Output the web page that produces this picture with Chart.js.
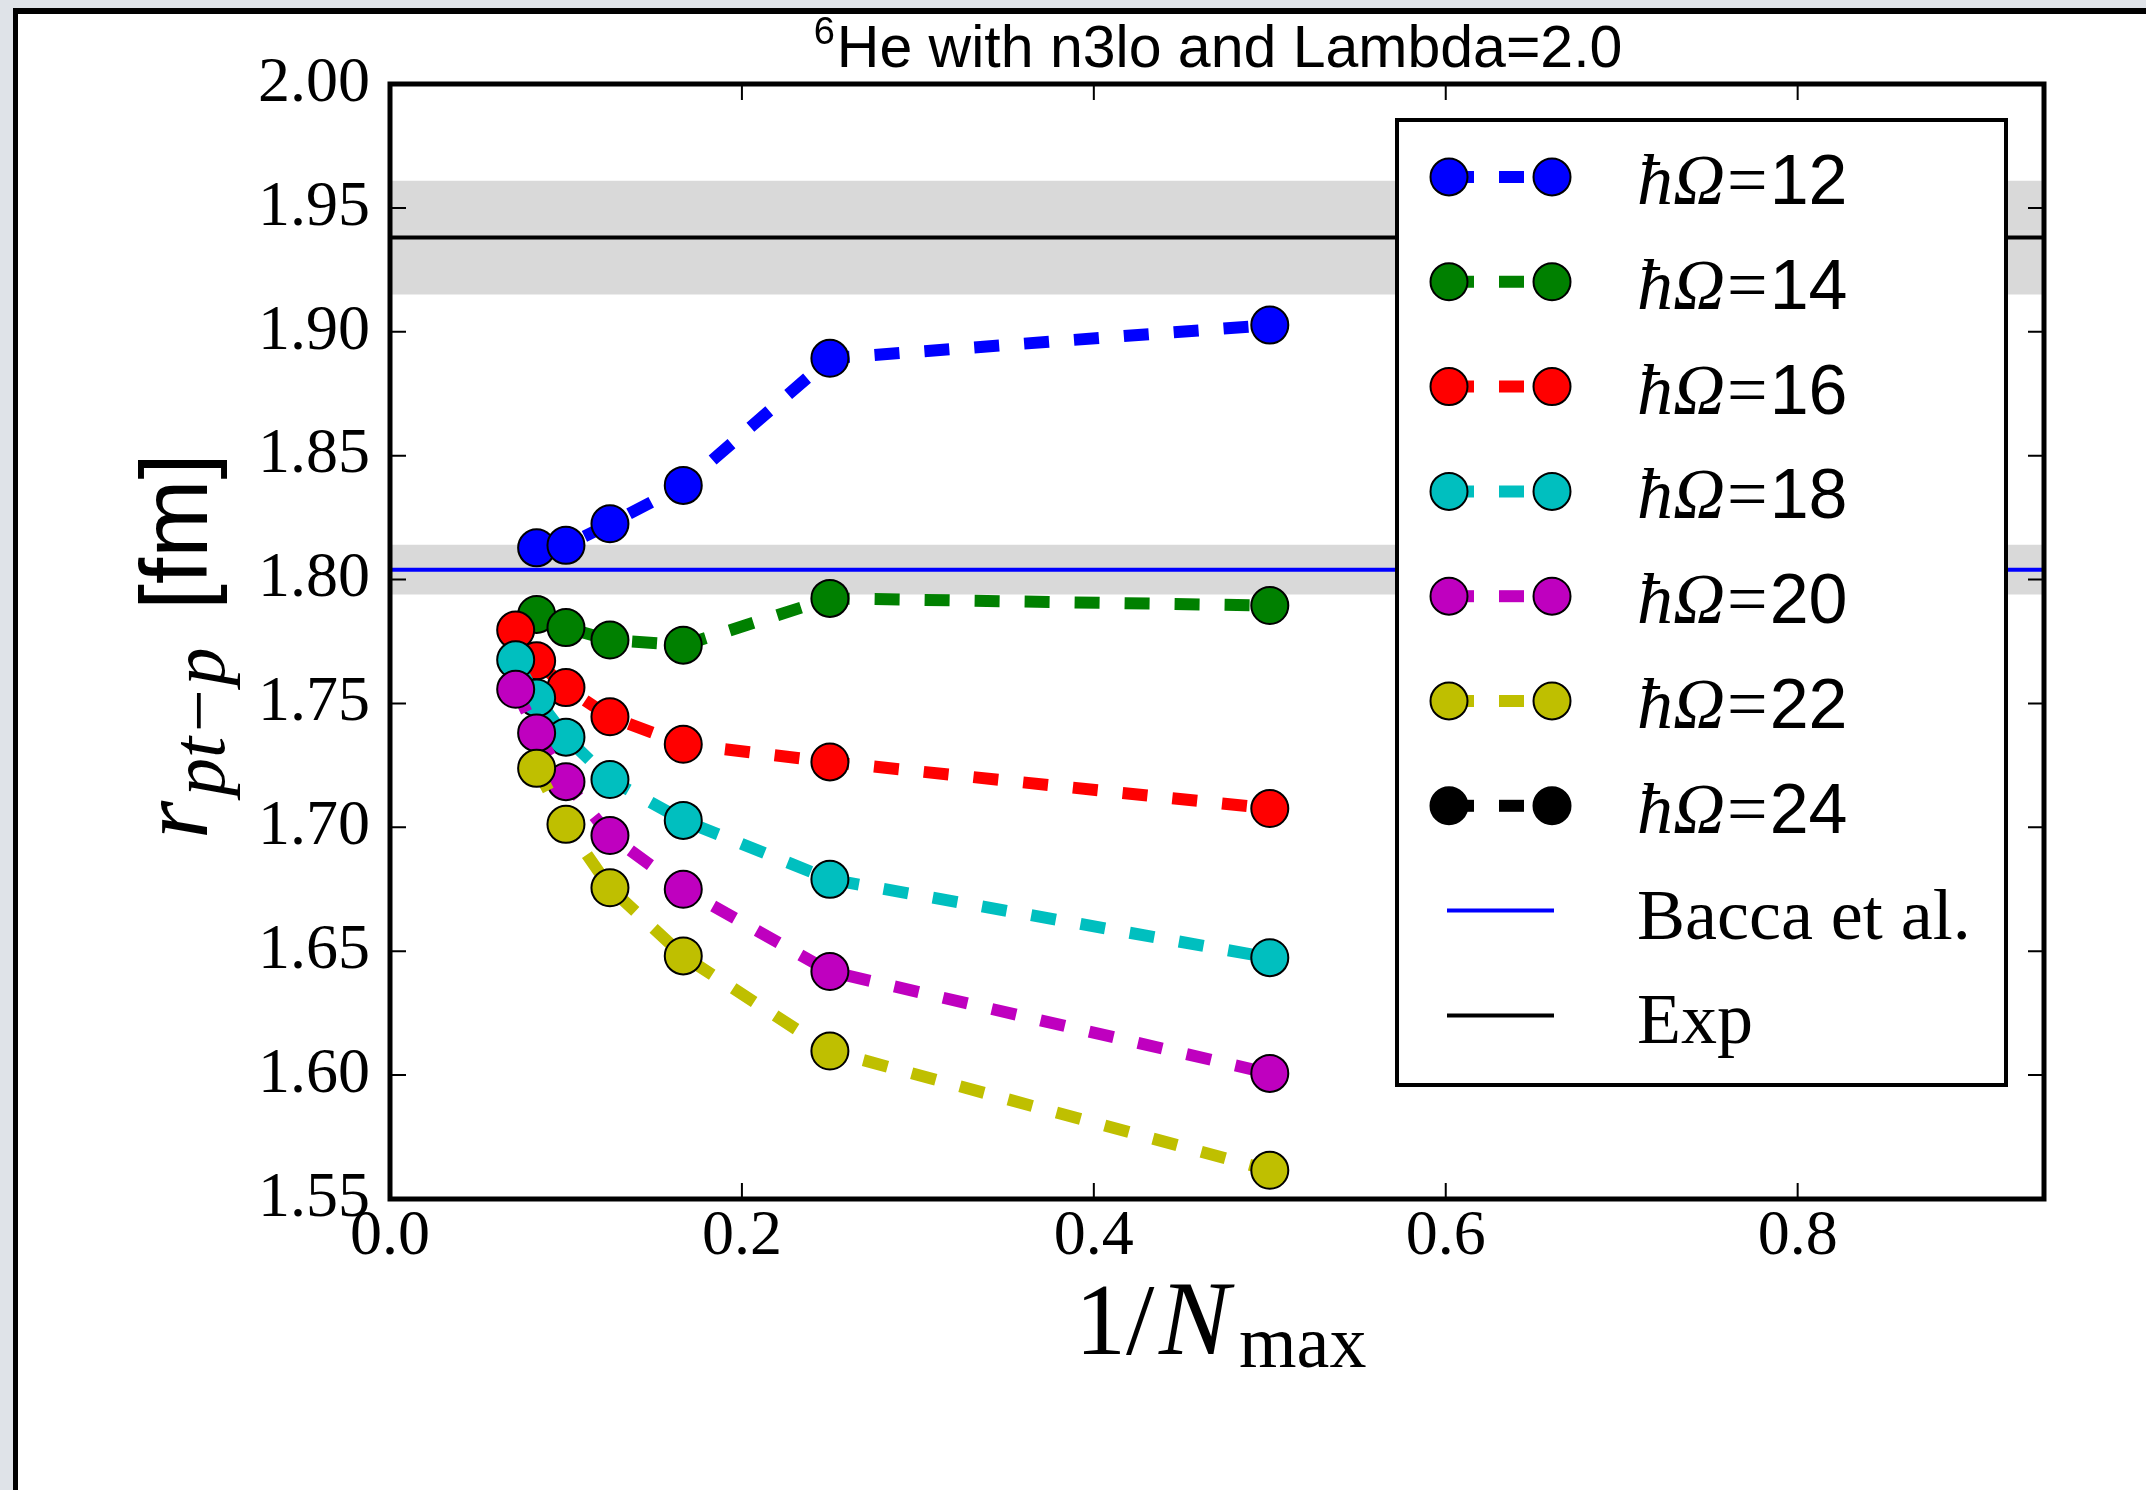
<!DOCTYPE html>
<html>
<head>
<meta charset="utf-8">
<script src="https://cdn.jsdelivr.net/npm/chart.js@4.4.1/dist/chart.umd.min.js"></script>
<style>
html, body { margin: 0; padding: 0; background: #dfe3e8; }
body { width: 2146px; height: 1490px; position: relative; overflow: hidden; }
#sheet { position: absolute; left: 13px; top: 8px; right: 0; bottom: 0; background: #fff; border-left: 5px solid #000; border-top: 6px solid #000; }
#chart { position: absolute; left: 0; top: 0; }
</style>
</head>
<body>
<div id="sheet"></div>
<canvas id="chart" width="2146" height="1490"></canvas>
<script>
// x axis is 1/Nmax
const nmaxValues = [14, 12, 10, 8, 6, 4, 2];

// r_pt-p [fm] for each hbar*Omega, same order as nmaxValues (null = no point)
const hw12 = [null, 1.8128, 1.8138, 1.8225, 1.8380, 1.8893, 1.9027];
const hw14 = [null, 1.7859, 1.7806, 1.7756, 1.7735, 1.7924, 1.7895];
const hw16 = [1.7796, 1.7672, 1.7564, 1.7446, 1.7335, 1.7264, 1.7076];
const hw18 = [1.7676, 1.7522, 1.7364, 1.7193, 1.7028, 1.6790, 1.6474];
const hw20 = [1.7557, 1.7381, 1.7184, 1.6967, 1.6750, 1.6418, 1.6007];
const hw22 = [null, 1.7238, 1.7012, 1.6756, 1.6481, 1.6097, 1.5616];
const hw24 = [null, null, null, null, null, null, null];

const seriesValues = [hw12, hw14, hw16, hw18, hw20, hw22, hw24];
const seriesLabels = ['ħΩ=12', 'ħΩ=14', 'ħΩ=16', 'ħΩ=18', 'ħΩ=20', 'ħΩ=22', 'ħΩ=24'];
const seriesColors = ['#0000ff', '#008000', '#ff0000', '#00bfbf', '#bf00bf', '#bfbf00', '#000000'];

// reference values with their grey bands
const baccaValue = 1.804;
const baccaBand = [1.794, 1.814];
const expValue = 1.938;
const expBand = [1.915, 1.961];

const xRange = [0, 0.94];
const yRange = [1.55, 2.00];
const xTicks = [0.0, 0.2, 0.4, 0.6, 0.8];
const yTicks = [1.55, 1.60, 1.65, 1.70, 1.75, 1.80, 1.85, 1.90, 1.95, 2.00];

Chart.defaults.color = '#000';

function toPoints(values) {
    var pts = [];
    values.forEach((v, i) => {
        if (v !== null) pts.push({ x: 1 / nmaxValues[i], y: v });
    });
    return pts;
}

function flatLine(v) {
    return [{ x: xRange[0], y: v }, { x: xRange[1], y: v }];
}

var datasets = [];

// grey bands (filled between upper and lower edge)
[expBand, baccaBand].forEach(band => {
    datasets.push({
        data: flatLine(band[1]),
        borderColor: 'rgba(0,0,0,0)',
        backgroundColor: '#d9d9d9',
        pointRadius: 0,
        fill: '+1',
        order: 100
    });
    datasets.push({
        data: flatLine(band[0]),
        borderColor: 'rgba(0,0,0,0)',
        pointRadius: 0,
        fill: false,
        order: 100
    });
});

seriesValues.forEach((values, i) => {
    datasets.push({
        label: seriesLabels[i],
        legendKind: 'series',
        data: toPoints(values),
        borderColor: seriesColors[i],
        backgroundColor: seriesColors[i],
        pointBackgroundColor: seriesColors[i],
        pointBorderColor: '#000',
        pointBorderWidth: 2,
        pointRadius: 18.5,
        borderWidth: 12,
        borderDash: [25, 25],
        fill: false,
        tension: 0,
        order: 20 - i
    });
});

datasets.push({
    label: 'Bacca et al.',
    legendKind: 'line',
    data: flatLine(baccaValue),
    borderColor: '#0000ff',
    borderWidth: 4,
    pointRadius: 0,
    fill: false,
    order: 50
});
datasets.push({
    label: 'Exp',
    legendKind: 'line',
    data: flatLine(expValue),
    borderColor: '#000000',
    borderWidth: 4,
    pointRadius: 0,
    fill: false,
    order: 50
});

//inward ticks on all four sides + frame
const frameTicks = {
    id: 'frameTicks',
    afterDatasetsDraw(chart) {
        const { ctx, chartArea: a, scales } = chart;
        const len = 16;
        ctx.save();
        ctx.strokeStyle = '#000';
        ctx.lineWidth = 2;
        ctx.beginPath();
        xTicks.forEach(v => {
            const px = scales.x.getPixelForValue(v);
            ctx.moveTo(px, a.bottom); ctx.lineTo(px, a.bottom - len);
            ctx.moveTo(px, a.top); ctx.lineTo(px, a.top + len);
        });
        yTicks.forEach(v => {
            const py = scales.y.getPixelForValue(v);
            ctx.moveTo(a.left, py); ctx.lineTo(a.left + len, py);
            ctx.moveTo(a.right, py); ctx.lineTo(a.right - len, py);
        });
        ctx.stroke();
        ctx.lineWidth = 5;
        ctx.strokeRect(a.left, a.top, a.right - a.left, a.bottom - a.top);
        ctx.restore();
    }
};

//title, axis titles and legend box
const annotations = {
    id: 'annotations',
    afterDraw(chart) {
        const { ctx, chartArea: a } = chart;
        const cx = (a.left + a.right) / 2;
        ctx.save();
        ctx.fillStyle = '#000';
        ctx.textBaseline = 'alphabetic';
        ctx.textAlign = 'left';

        // title with superscript 6
        const rest = 'He with n3lo and Lambda=2.0';
        ctx.font = '38px "Liberation Sans"';
        const w6 = ctx.measureText('6').width;
        ctx.font = '59px "Liberation Sans"';
        const wRest = ctx.measureText(rest).width;
        const tx = cx - (w6 + wRest) / 2;
        ctx.font = '38px "Liberation Sans"';
        ctx.fillText('6', tx, a.top - 40);
        ctx.font = '59px "Liberation Sans"';
        ctx.fillText(rest, tx + w6 + 2, a.top - 17);

        // x axis title 1/N_max
        ctx.font = '102px "Liberation Serif"';
        ctx.fillText('1/', cx - 142, a.bottom + 155);
        ctx.font = 'italic 106px "Liberation Serif"';
        ctx.fillText('N', cx - 58, a.bottom + 155);
        ctx.font = '74px "Liberation Serif"';
        ctx.fillText('max', cx + 22, a.bottom + 168);

        // y axis title r_pt-p [fm]
        ctx.save();
        ctx.translate(207, 0);
        ctx.rotate(-Math.PI / 2);
        ctx.font = 'italic 98px "Liberation Serif"';
        ctx.fillText('r', -839, 0);
        ctx.font = 'italic 76px "Liberation Serif"';
        ctx.fillText('pt\u2212p', -796, 17);
        ctx.font = '94px "Liberation Sans"';
        ctx.fillText('[fm]', -610, 0);
        ctx.restore();

        // legend
        const left = a.right - 647, top = a.top + 36, w = 609, h = 965;
        ctx.fillStyle = '#fff';
        ctx.fillRect(left, top, w, h);
        ctx.strokeStyle = '#000';
        ctx.lineWidth = 4;
        ctx.strokeRect(left, top, w, h);

        const entries = chart.data.datasets.filter(d => d.legendKind);
        entries.forEach((d, i) => {
            const y = top + 57 + i * 104.8;
            const x1 = left + 52, x2 = left + 155;
            ctx.save();
            if (d.legendKind === 'series') {
                ctx.strokeStyle = d.borderColor;
                ctx.lineWidth = d.borderWidth;
                ctx.setLineDash(d.borderDash);
                ctx.beginPath();
                ctx.moveTo(x1, y); ctx.lineTo(x2, y);
                ctx.stroke();
                ctx.setLineDash([]);
                [x1, x2].forEach(px => {
                    ctx.beginPath();
                    ctx.arc(px, y, d.pointRadius, 0, Math.PI * 2);
                    ctx.fillStyle = d.pointBackgroundColor;
                    ctx.fill();
                    ctx.lineWidth = d.pointBorderWidth;
                    ctx.strokeStyle = d.pointBorderColor;
                    ctx.stroke();
                });
            } else {
                ctx.strokeStyle = d.borderColor;
                ctx.lineWidth = d.borderWidth;
                ctx.beginPath();
                ctx.moveTo(left + 50, y); ctx.lineTo(left + 157, y);
                ctx.stroke();
            }
            ctx.restore();

            ctx.fillStyle = '#000';
            let tx2 = left + 240;
            if (d.legendKind === 'series') {
                const parts = d.label.split('=');
                ctx.font = 'italic 72px "Liberation Serif"';
                ctx.fillText(parts[0], tx2, y + 27);
                tx2 += ctx.measureText(parts[0]).width + 2;
                ctx.font = '72px "Liberation Serif"';
                ctx.fillText('=', tx2, y + 27);
                tx2 += ctx.measureText('=').width + 2;
                ctx.font = '70px "Liberation Sans"';
                ctx.fillText(parts[1], tx2, y + 27);
            } else {
                ctx.font = '72px "Liberation Serif"';
                ctx.fillText(d.label, tx2, y + 28);
            }
        });
        ctx.restore();
    }
};

const tickFont = { family: '"Liberation Serif"', size: 64, lineHeight: 1.2 };

const ctxRadius = document.getElementById('chart').getContext('2d');
const radiusChart = new Chart(ctxRadius, {
    type: 'line',
    data: { datasets: datasets },
    options: {
        responsive: false,
        animation: false,
        devicePixelRatio: 1,
        layout: { padding: { top: 84, right: 102, left: 0, bottom: 0 } },
        plugins: {
            legend: { display: false },
            title: { display: false },
            tooltip: { enabled: false }
        },
        scales: {
            x: {
                type: 'linear',
                min: xRange[0],
                max: xRange[1],
                grid: { display: false, drawTicks: false },
                border: { display: false },
                afterBuildTicks: s => { s.ticks = xTicks.map(v => ({ value: v })); },
                afterFit: s => { s.height = 291; },
                ticks: {
                    font: tickFont,
                    color: '#000',
                    padding: 0,
                    maxRotation: 0,
                    autoSkip: false,
                    callback: v => Number(v).toFixed(1)
                }
            },
            y: {
                type: 'linear',
                min: yRange[0],
                max: yRange[1],
                grid: { display: false, drawTicks: false },
                border: { display: false },
                afterBuildTicks: s => { s.ticks = yTicks.map(v => ({ value: v })); },
                afterFit: s => { s.width = 390; },
                ticks: {
                    font: tickFont,
                    color: '#000',
                    padding: 20,
                    autoSkip: false,
                    callback: v => Number(v).toFixed(2)
                }
            }
        }
    },
    plugins: [frameTicks, annotations]
});
</script>
</body>
</html>
